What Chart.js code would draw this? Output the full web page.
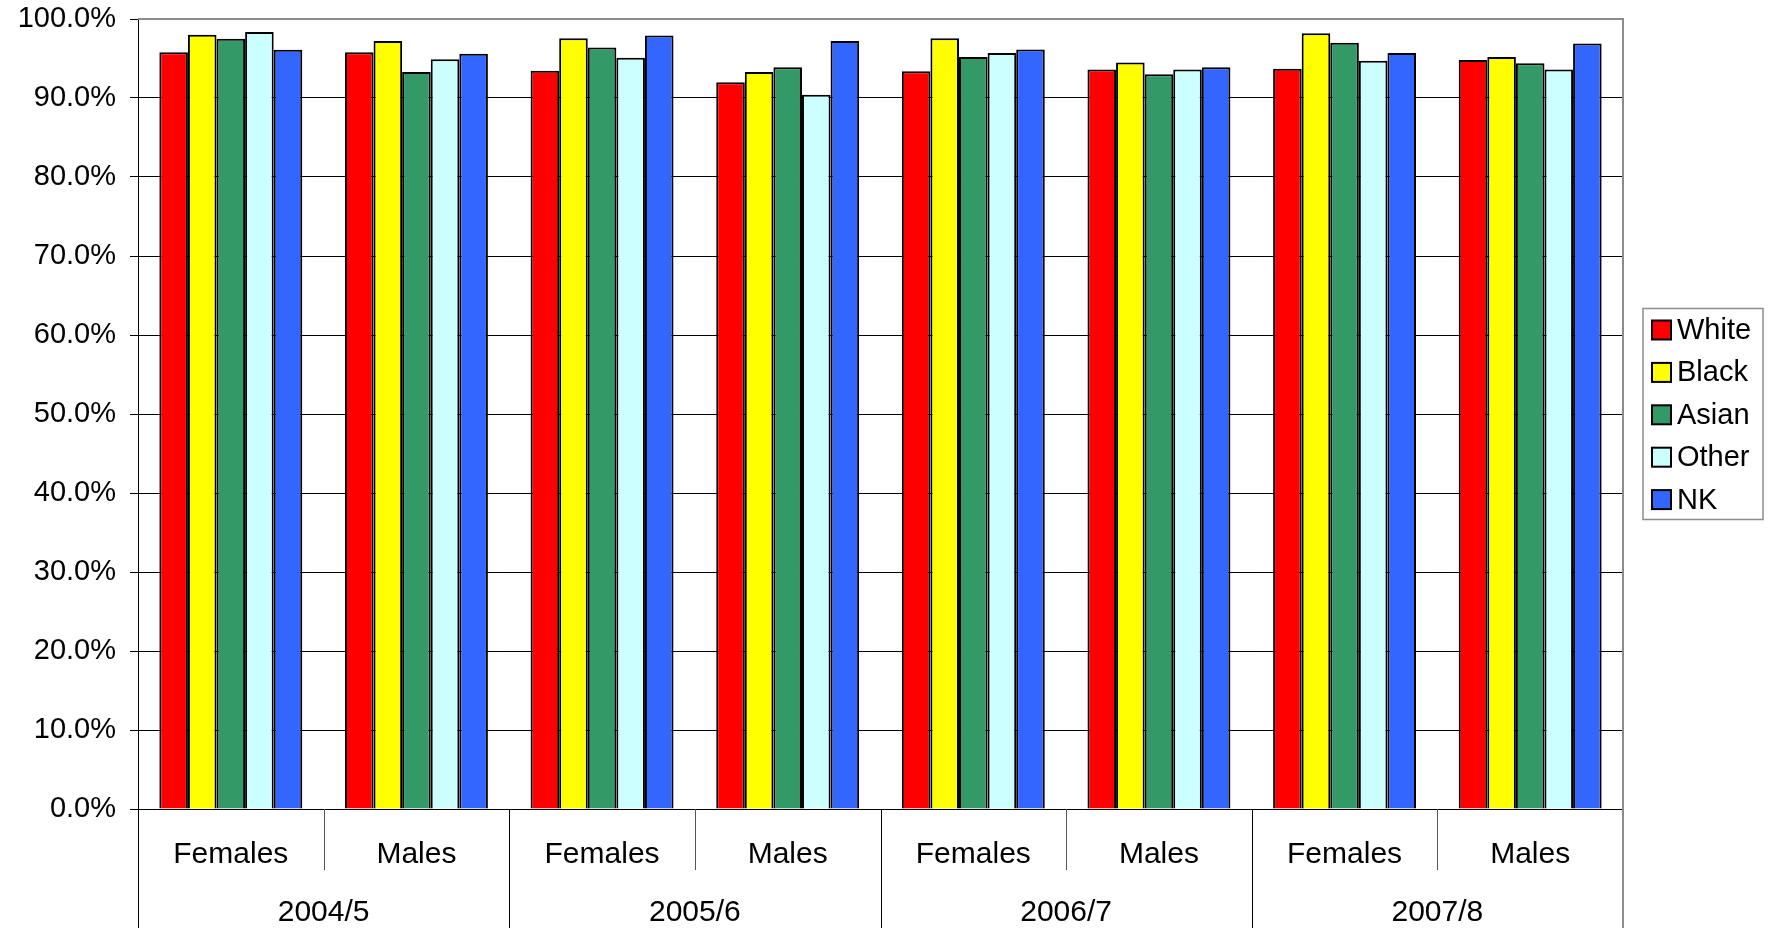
<!DOCTYPE html>
<html>
<head>
<meta charset="utf-8">
<script src="https://cdn.jsdelivr.net/npm/chart.js@4/dist/chart.umd.min.js"></script>
<style>
  html, body { margin: 0; padding: 0; background: #ffffff; }
  #wrap { width: 1769px; height: 928px; }
</style>
</head>
<body>
<div id="wrap"><canvas id="c" width="1769" height="928"></canvas></div>
<script>
// Sub-categories along the x axis, grouped in pairs under each year
const categories = ['Females', 'Males', 'Females', 'Males', 'Females', 'Males', 'Females', 'Males'];
const years = ['2004/5', '2005/6', '2006/7', '2007/8'];

// Percentages per ethnic group, one value per sub-category
const white = [95.8, 95.8, 93.45, 92.0, 93.4, 93.6, 93.7, 94.8];
const black = [98.0, 97.2, 97.55, 93.3, 97.55, 94.5, 98.2, 95.2];
const asian = [97.5, 93.3, 96.4, 93.9, 95.2, 93.0, 97.0, 94.4];
const other = [98.35, 94.9, 95.1, 90.4, 95.7, 93.6, 94.7, 93.6];
const nk    = [96.1, 95.6, 97.9, 97.2, 96.15, 93.9, 95.7, 96.9];

const seriesNames = ['White', 'Black', 'Asian', 'Other', 'NK'];
const seriesColors = ['#FF0000', '#FFFF00', '#339966', '#CCFFFF', '#3366FF'];
const seriesValues = [white, black, asian, other, nk];

const yTicks = [0, 10, 20, 30, 40, 50, 60, 70, 80, 90, 100];

const FONT = '"Liberation Sans", Arial, sans-serif';

// Draws the plot frame, the two-level category axis and the boxed legend
const decorations = {
  id: 'decorations',
  afterDraw(chart) {
    const { ctx, chartArea: a, scales: { x } } = chart;
    const H = chart.height;
    ctx.save();

    // dividers below the axis: short between sexes, long between years
    const n = categories.length;
    const half = (x.getPixelForValue(1) - x.getPixelForValue(0)) / 2;
    for (let i = 0; i < n; i++) {
      const px = Math.round(x.getPixelForValue(i) - half) + 0.5;
      const long = i % 2 === 0;
      ctx.strokeStyle = long ? '#000000' : '#555555';
      ctx.lineWidth = 1;
      ctx.beginPath();
      ctx.moveTo(px, a.bottom);
      ctx.lineTo(px, long ? H : a.bottom + 61);
      ctx.stroke();
    }

    // grey frame on top and right of the plot area, right edge runs to the bottom
    ctx.strokeStyle = '#8c8c8c';
    ctx.lineWidth = 2;
    ctx.beginPath();
    ctx.moveTo(a.left, a.top);
    ctx.lineTo(a.right, a.top);
    ctx.lineTo(a.right, H);
    ctx.stroke();

    // sub-category and year labels
    ctx.fillStyle = '#000000';
    ctx.textAlign = 'center';
    ctx.textBaseline = 'middle';
    ctx.font = '30px ' + FONT;
    categories.forEach((c, i) => ctx.fillText(c, x.getPixelForValue(i), a.bottom + 46));
    years.forEach((yr, j) => {
      const cx = (x.getPixelForValue(2 * j) + x.getPixelForValue(2 * j + 1)) / 2;
      ctx.fillText(yr, cx, a.bottom + 104);
    });

    // legend box to the right of the plot
    const items = chart.data.datasets;
    const rowH = 42.4;
    const boxW = 120, boxH = 211;
    const left = a.right + 20;
    const top = (a.top + a.bottom) / 2 - boxH / 2;
    ctx.strokeStyle = '#8c8c8c';
    ctx.lineWidth = 1.5;
    ctx.strokeRect(left, top, boxW, boxH);
    ctx.textAlign = 'left';
    ctx.font = '29px ' + FONT;
    items.forEach((ds, i) => {
      const cy = top + 21.5 + i * rowH;
      ctx.fillStyle = ds.backgroundColor;
      ctx.fillRect(left + 9, cy - 9.5, 19, 19);
      ctx.strokeStyle = '#000000';
      ctx.lineWidth = 2;
      ctx.strokeRect(left + 9, cy - 9.5, 19, 19);
      ctx.fillStyle = '#000000';
      ctx.fillText(ds.label, left + 34, cy + 1);
    });

    ctx.restore();
  }
};

new Chart(document.getElementById('c'), {
  type: 'bar',
  data: {
    labels: categories,
    datasets: seriesNames.map((name, i) => ({
      label: name,
      data: seriesValues[i],
      backgroundColor: seriesColors[i],
      borderColor: '#000000',
      borderWidth: 2,
      borderSkipped: 'bottom',
      barPercentage: 1.0,
      categoryPercentage: 0.77
    }))
  },
  options: {
    responsive: false,
    animation: false,
    devicePixelRatio: 1,
    layout: { padding: { top: 19, right: 146, bottom: 0, left: 0 } },
    plugins: {
      legend: { display: false },
      tooltip: { enabled: false }
    },
    scales: {
      x: {
        grid: { display: false },
        border: { display: false },
        ticks: { display: false },
        afterFit(scale) { scale.height = 119; }
      },
      y: {
        min: 0,
        max: 100,
        afterBuildTicks(scale) { scale.ticks = yTicks.map(v => ({ value: v })); },
        afterFit(scale) {
          scale.width = 138;
          scale.paddingTop = 0;
          scale.paddingBottom = 0;
        },
        grid: { color: '#000000', lineWidth: 1, tickLength: 8, tickColor: '#000000' },
        border: { display: true, color: '#000000', width: 1 },
        ticks: {
          padding: 14,
          color: '#000000',
          font: { family: FONT, size: 29 },
          callback: v => v.toFixed(1) + '%'
        }
      }
    }
  },
  plugins: [decorations]
});
</script>
</body>
</html>
